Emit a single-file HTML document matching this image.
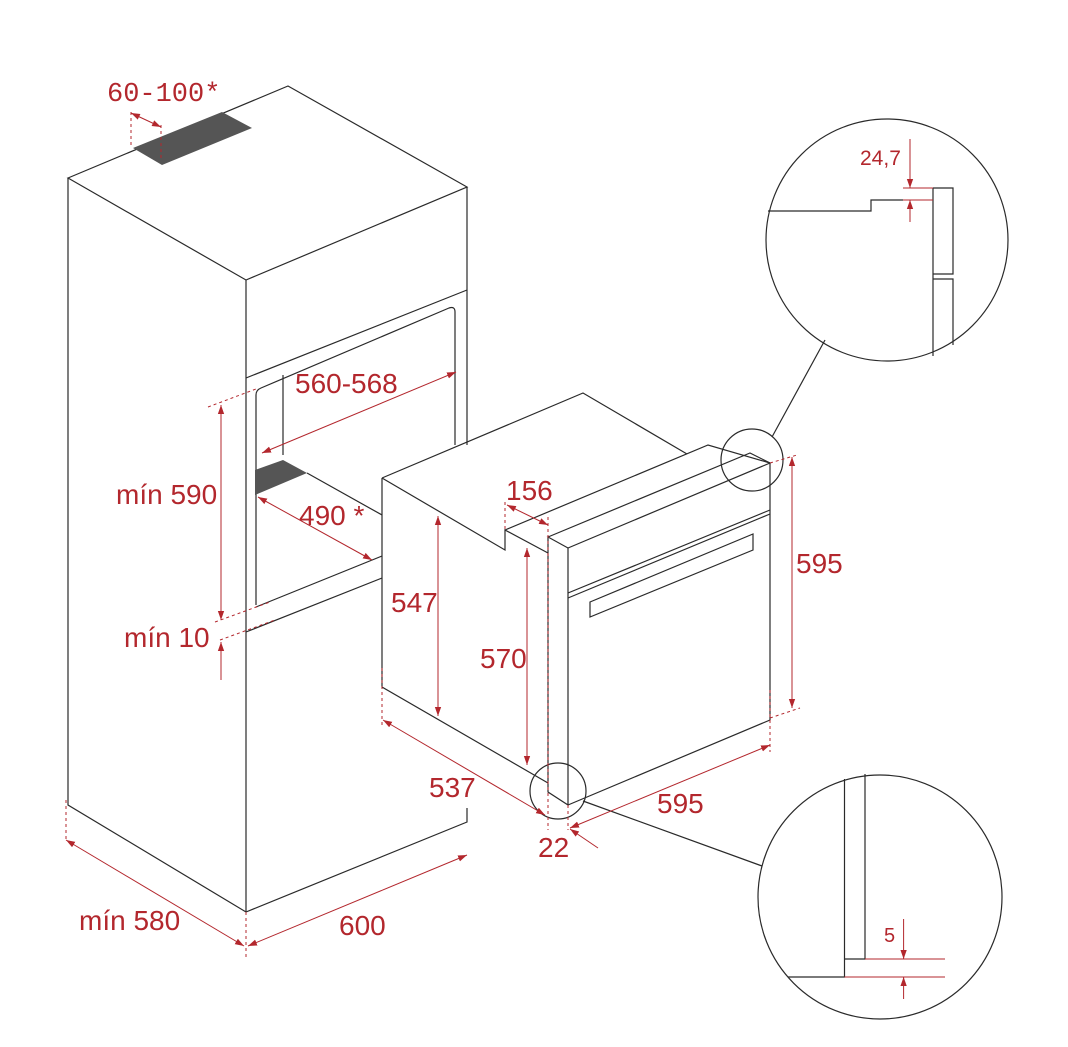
<!DOCTYPE html>
<html><head><meta charset="utf-8"><style>
html,body{margin:0;padding:0;background:#fff;}
svg{display:block;}
text{font-family:"Liberation Sans",sans-serif;fill:#b3272d;}
</style></head><body>
<svg width="1068" height="1047" viewBox="0 0 1068 1047" xmlns="http://www.w3.org/2000/svg">
<defs>
<marker id="a" viewBox="0 0 10 10" refX="10" refY="5" markerWidth="9" markerHeight="9" orient="auto-start-reverse" markerUnits="userSpaceOnUse">
<path d="M0,1.5 L10,5 L0,8.5 z" fill="#b3272d"/></marker>
</defs>
<g fill="none" stroke="#2a2a2a" stroke-width="1.2">
<!-- cabinet -->
<path d="M68,178 L288,86 L467,187 L246,280 Z"/>
<path d="M68,178 L68,805 L246,912 L467,822 L467,808"/>
<path d="M246,280 L246,912"/>
<path d="M467,187 L467,445"/>
<path d="M246,378 L467,290"/>
<path d="M256,605 L256,395 Q256,390 261,388 L449,308 Q455,306 455,312 L455,445"/>
<path d="M283,375 L283,455"/>
<path d="M256,607 L382,556"/>
<path d="M246,632 L382,578"/>
<path d="M307,473 L382,515"/>
<!-- oven -->
<path d="M382,478 L583,393 L687,454"/>
<path d="M382,478 L382,687 L548,783"/>
<path d="M382,478 L505,550 L505,530 L548,553"/>
<path d="M505,530 L708,445 L770,463"/>
<path d="M548,537 L750,453 L770,463 L568,548 Z"/>
<path d="M548,537 L548,792 L568,805 L568,548"/>
<path d="M770,463 L770,720 L568,805"/>
<path d="M568,593 L770,510 M568,598 L770,514"/>
<path d="M590,602 L753,534 L753,550 L590,617 Z"/>
<!-- small circles and leaders -->
<circle cx="752" cy="460" r="31"/>
<path d="M772,437 L825,340"/>
<circle cx="558" cy="791" r="28"/>
<path d="M583,801 L762,866"/>
<!-- detail circle top -->
<circle cx="887" cy="240" r="121"/>
<path d="M768,211 L871,211 L871,200 L903,200"/>
<path d="M933,188 L953,188 L953,274 L933,274 M933,279 L953,279 L953,345 M933,188 L933,356"/>
<!-- detail circle bottom -->
<circle cx="880" cy="897" r="122"/>
<path d="M844.5,779 L844.5,977 L788,977 M865,774 L865,959 L844.5,959"/>
</g>
<!-- shaded parts -->
<path d="M133,148 L222,112 L252,128 L162,165 Z" fill="#555"/>
<path d="M255,470 L283,460 L307,473 L255,495 Z" fill="#555"/>
<!-- red dims -->
<g fill="none" stroke="#b3272d" stroke-width="1">
<path d="M131,112 L131,148 M161,125 L161,160 M66,800 L66,842 M246,912 L246,960 M382,668 L382,728 M505,502 L505,530 M548,517 L548,830 M568,805 L568,830 M770,690 L770,752 M770,463 L797,455 M770,718 L800,708 M208,407 L256,389 M215,622 L270,602 M220,640 L275,620" stroke-dasharray="3,3"/>
<path d="M131,113 L161,127" marker-start="url(#a)" marker-end="url(#a)"/>
<path d="M262,453 L456,372" marker-start="url(#a)" marker-end="url(#a)"/>
<path d="M258,497 L372,560" marker-start="url(#a)" marker-end="url(#a)"/>
<path d="M221,405 L221,620" marker-start="url(#a)" marker-end="url(#a)"/>
<path d="M221,680 L221,642" marker-end="url(#a)"/>
<path d="M66,840 L244,946" marker-start="url(#a)" marker-end="url(#a)"/>
<path d="M248,946 L467,855" marker-start="url(#a)" marker-end="url(#a)"/>
<path d="M438,516 L438,716" marker-start="url(#a)" marker-end="url(#a)"/>
<path d="M527,548 L527,765" marker-start="url(#a)" marker-end="url(#a)"/>
<path d="M507,505 L548,525" marker-start="url(#a)" marker-end="url(#a)"/>
<path d="M792,457 L792,708" marker-start="url(#a)" marker-end="url(#a)"/>
<path d="M383,720 L545,815" marker-start="url(#a)" marker-end="url(#a)"/>
<path d="M570,828 L770,745" marker-start="url(#a)" marker-end="url(#a)"/>
<path d="M598,848 L570,829" marker-end="url(#a)"/>
<path d="M903,188 L933,188 M903,200 L933,200"/>
<path d="M910,139 L910,188" marker-end="url(#a)"/>
<path d="M910,222 L910,200" marker-end="url(#a)"/>
<path d="M865,959 L945,959 M844.5,977 L945,977"/>
<path d="M903.6,919 L903.6,959" marker-end="url(#a)"/>
<path d="M903.6,999 L903.6,977" marker-end="url(#a)"/>
</g>
<g font-size="28">
<text x="107" y="101" font-family="Liberation Mono" font-size="27" style="font-family:'Liberation Mono',monospace">60-100*</text>
<text x="295" y="393">560-568</text>
<text x="299" y="525">490 *</text>
<text x="116" y="504">mín 590</text>
<text x="124" y="647">mín 10</text>
<text x="79" y="930">mín 580</text>
<text x="339" y="935">600</text>
<text x="391" y="612">547</text>
<text x="480" y="668">570</text>
<text x="506" y="500">156</text>
<text x="796" y="573">595</text>
<text x="429" y="797">537</text>
<text x="657" y="813">595</text>
<text x="538" y="857">22</text>
<text x="860" y="165" font-size="21">24,7</text>
<text x="884" y="942" font-size="20">5</text>
</g>
</svg>
</body></html>
